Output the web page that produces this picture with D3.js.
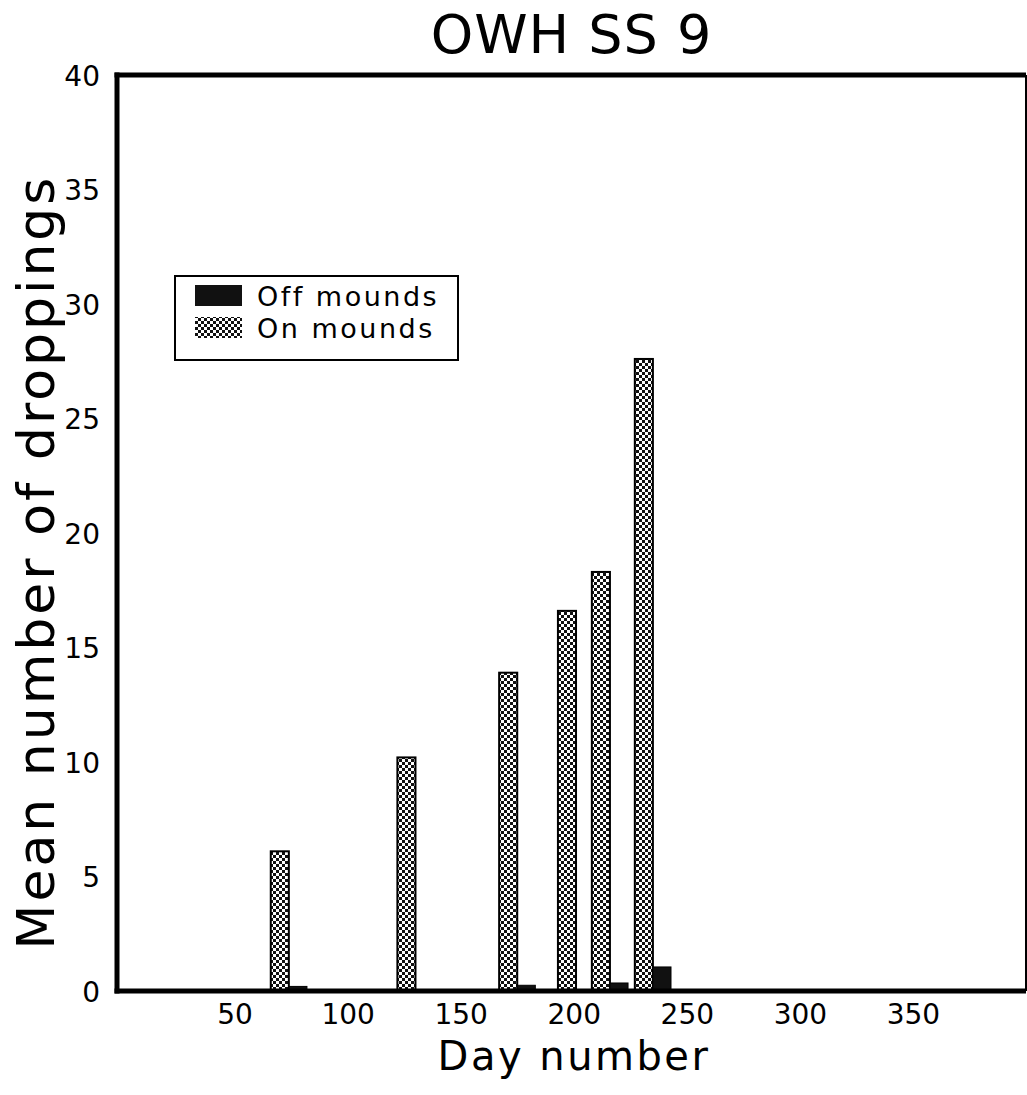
<!DOCTYPE html>
<html>
<head>
<meta charset="utf-8">
<script src="https://cdn.jsdelivr.net/npm/d3@7"></script>
<style>
  body { margin: 0; background: #fff; }
  svg { display: block; }
  text { font-family: 'DejaVu Sans', sans-serif; fill: #000; }
</style>
</head>
<body>
<svg id="chart"></svg>
<script>
// Data
const days = [74, 130, 175, 201, 216, 235];
const onMounds = [6.1, 10.2, 13.9, 16.6, 18.3, 27.6];
const offMounds = [0.2, 0, 0.25, 0, 0.35, 1.05];
const yTicks = [0, 5, 10, 15, 20, 25, 30, 35, 40];
const xTicks = [50, 100, 150, 200, 250, 300, 350];
const barDays = 8; // width of one bar in day units

const width = 1027, height = 1095;
const margin = { left: 117, right: 1026, top: 75, bottom: 991 };

const svg = d3.select('#chart')
  .attr('width', width)
  .attr('height', height);

// Checkered fill for the "on mounds" bars
const defs = svg.append('defs');
const pat = defs.append('pattern')
  .attr('id', 'checks')
  .attr('patternUnits', 'userSpaceOnUse')
  .attr('width', 6)
  .attr('height', 6);
pat.append('rect').attr('width', 6).attr('height', 6).attr('fill', '#fff');
pat.append('rect').attr('width', 3).attr('height', 3).attr('fill', '#111');
pat.append('rect').attr('x', 3).attr('y', 3).attr('width', 3).attr('height', 3).attr('fill', '#111');

const x = d3.scaleLinear().domain([-2, 400]).range([margin.left, margin.right]);
const y = d3.scaleLinear().domain([0, 40]).range([margin.bottom, margin.top]);

const g = svg.append('g');

// Bars: on mounds to the left of the sample day, off mounds to the right
g.selectAll('.on')
  .data(days)
  .enter().append('rect')
  .attr('class', 'on')
  .attr('x', d => x(d - barDays))
  .attr('y', (d, i) => y(onMounds[i]))
  .attr('width', x(barDays) - x(0))
  .attr('height', (d, i) => y(0) - y(onMounds[i]))
  .attr('fill', 'url(#checks)')
  .attr('stroke', '#000')
  .attr('stroke-width', 2);

g.selectAll('.off')
  .data(days.filter((d, i) => offMounds[i] > 0))
  .enter().append('rect')
  .attr('class', 'off')
  .attr('x', d => x(d))
  .attr('y', d => y(offMounds[days.indexOf(d)]))
  .attr('width', x(barDays) - x(0))
  .attr('height', d => y(0) - y(offMounds[days.indexOf(d)]))
  .attr('fill', '#111')
  .attr('stroke', '#000')
  .attr('stroke-width', 1);

// Frame
svg.append('line')
  .attr('x1', margin.left).attr('x2', margin.left)
  .attr('y1', margin.top - 2.5).attr('y2', margin.bottom + 2.5)
  .attr('stroke', '#000').attr('stroke-width', 5);
svg.append('line')
  .attr('x1', margin.left - 2.5).attr('x2', margin.right)
  .attr('y1', margin.top).attr('y2', margin.top)
  .attr('stroke', '#000').attr('stroke-width', 5);
svg.append('line')
  .attr('x1', margin.left - 2.5).attr('x2', margin.right)
  .attr('y1', margin.bottom).attr('y2', margin.bottom)
  .attr('stroke', '#000').attr('stroke-width', 5);
svg.append('line')
  .attr('x1', margin.right).attr('x2', margin.right)
  .attr('y1', margin.top).attr('y2', margin.bottom)
  .attr('stroke', '#000').attr('stroke-width', 2);

// Axes (labels only, no tick marks)
const yAxis = svg.append('g')
  .attr('transform', `translate(${margin.left},0)`)
  .call(d3.axisLeft(y).tickValues(yTicks).tickSize(0).tickPadding(17));
yAxis.select('.domain').remove();
yAxis.selectAll('text')
  .attr('font-size', 28)
  .attr('font-family', "'DejaVu Sans', sans-serif")
  .attr('dy', '0.36em');

const xAxis = svg.append('g')
  .attr('transform', `translate(0,${margin.bottom})`)
  .call(d3.axisBottom(x).tickValues(xTicks).tickSize(0).tickPadding(13));
xAxis.select('.domain').remove();
xAxis.selectAll('text')
  .attr('font-size', 28)
  .attr('font-family', "'DejaVu Sans', sans-serif");

// Titles
svg.append('text')
  .attr('x', (margin.left + margin.right) / 2)
  .attr('y', 53)
  .attr('text-anchor', 'middle')
  .attr('font-size', 54)
  .attr('letter-spacing', 1)
  .text('OWH SS 9');

svg.append('text')
  .attr('x', 574)
  .attr('y', 1070)
  .attr('text-anchor', 'middle')
  .attr('font-size', 40)
  .attr('letter-spacing', 2.5)
  .text('Day number');

svg.append('text')
  .attr('transform', 'translate(54,562) rotate(-90)')
  .attr('text-anchor', 'middle')
  .attr('font-size', 52)
  .attr('letter-spacing', 3)
  .text('Mean number of droppings');

// Legend
const legend = svg.append('g');
legend.append('rect')
  .attr('x', 175).attr('y', 276)
  .attr('width', 283).attr('height', 84)
  .attr('fill', '#fff')
  .attr('stroke', '#000')
  .attr('stroke-width', 2);

const legendItems = [
  { label: 'Off mounds', fill: '#111' },
  { label: 'On mounds', fill: 'url(#checks)' }
];
legendItems.forEach((item, i) => {
  legend.append('rect')
    .attr('x', 195).attr('y', 285 + i * 32)
    .attr('width', 47).attr('height', 21)
    .attr('fill', item.fill);
  legend.append('text')
    .attr('x', 257).attr('y', 306 + i * 32)
    .attr('font-size', 27)
    .attr('letter-spacing', 2.5)
    .text(item.label);
});
</script>
</body>
</html>
